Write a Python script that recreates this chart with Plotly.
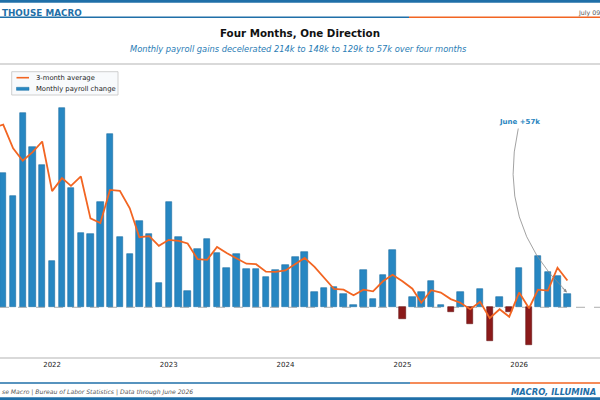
import pandas as pd
import plotly.graph_objects as go

# monthly nonfarm payroll change, thousands (Aug 2021 .. Jun 2026)
months = pd.date_range('2021-08-01', '2026-06-01', freq='MS')
payrolls = [556, 461, 808, 664, 591,
            191, 826, 494, 310, 303, 437, 721, 292, 220, 360, 304, 100,
            437, 292, 66, 242, 282, 227, 165, 220, 158, 160, 127, 155,
            176, 209, 230, 64, 79, 86, 54, 10, 156, 33, 134, 238,
            -48, 41, 65, 108, 11, -18, 65, -71, 75, -140, 41, -19,
            162, -156, 214, 148, 129, 57]

# 3-month average (starts one month earlier, off the left edge)
avg_months = pd.date_range('2021-07-01', '2026-06-01', freq='MS')
avg3 = [745, 758, 660, 608, 644, 688,
        482, 536, 504, 543, 369, 350, 487, 483, 411, 291, 295, 255,
        280, 276, 265, 200, 197, 250, 225, 204, 181, 179, 148, 147,
        153, 180, 205, 168, 124, 76, 73, 50, 73, 66, 108, 135,
        108, 77, 19, 71, 61, 34, 19, -8, 23, -45, -8, -39,
        61, -4, 73, 69, 164, 111]

year_ticks = ['2022-01-01', '2023-01-01', '2024-01-01', '2025-01-01', '2026-01-01']
year_labels = ['2022', '2023', '2024', '2025', '2026']

BLUE = '#2787c2'
RED = '#8b1a1a'
ORANGE = '#f26522'
HDR = '#1f6fa8'

# plot area spans y = 65..357 px of a 400 px page
def py(y_px):
    return (357 - y_px) / 292

def px(x_px):
    return x_px / 600

bar_colors = [BLUE if v >= 0 else RED for v in payrolls]
bar_lines = ['#1b6ea3' if v >= 0 else '#651010' for v in payrolls]

fig = go.Figure()
fig.add_trace(go.Bar(x=months, y=payrolls, name='Monthly payroll change',
                     width=20 * 86400000,
                     marker=dict(color=bar_colors, line=dict(color=bar_lines, width=0.6))))
fig.add_trace(go.Scatter(x=avg_months, y=avg3, name='3-month average', mode='lines',
                         line=dict(color=ORANGE, width=1.8)))

shapes = [
    # zero line
    dict(type='line', xref='paper', yref='y', x0=0, x1=1, y0=0, y1=0,
         line=dict(color='#999999', width=0.8, dash='dash'), layer='below'),
    # header bands
    dict(type='rect', xref='paper', yref='paper', x0=0, x1=1, y0=py(0), y1=py(2.8),
         fillcolor=HDR, line_width=0),
    dict(type='line', xref='paper', yref='paper', x0=0, x1=px(409), y0=py(17.3), y1=py(17.3),
         line=dict(color=HDR, width=1.5)),
    dict(type='line', xref='paper', yref='paper', x0=px(409), x1=1, y0=py(17.3), y1=py(17.3),
         line=dict(color=ORANGE, width=1.5)),
    dict(type='line', xref='paper', yref='paper', x0=0, x1=1, y0=py(64), y1=py(64),
         line=dict(color='#d9d9d9', width=2)),
    # footer bands
    dict(type='line', xref='paper', yref='paper', x0=0, x1=px(410), y0=py(383), y1=py(383),
         line=dict(color=HDR, width=1.5)),
    dict(type='line', xref='paper', yref='paper', x0=px(410), x1=1, y0=py(383), y1=py(383),
         line=dict(color=ORANGE, width=1.5)),
    dict(type='rect', xref='paper', yref='paper', x0=0, x1=1, y0=py(397.3), y1=py(400),
         fillcolor=HDR, line_width=0),
    # legend box and keys
    dict(type='rect', xref='paper', yref='paper', x0=px(11.7), x1=px(118), y0=py(71.7), y1=py(95),
         fillcolor='#f8fafc', line=dict(color='#c4c4c4', width=0.8)),
    dict(type='line', xref='paper', yref='paper', x0=px(16.5), x1=px(29), y0=py(77.7), y1=py(77.7),
         line=dict(color=ORANGE, width=1.6)),
    dict(type='rect', xref='paper', yref='paper', x0=px(16.5), x1=px(29), y0=py(87.3), y1=py(90.3),
         fillcolor=BLUE, line=dict(color='#1b6ea3', width=0.5)),
    # curved callout to June bar
    dict(type='path', xref='paper', yref='paper',
         path='M %.4f,%.4f Q %.4f,%.4f %.4f,%.4f' % (px(518.3), py(128.5), px(496.5), py(224),
                                                     px(566), py(291)),
         line=dict(color='#8a8a8a', width=0.8)),
]

annotations = [
    dict(text='<b>THOUSE MACRO</b>', xref='paper', yref='paper', x=px(0), y=py(12.7),
         xanchor='left', yanchor='middle', showarrow=False,
         font=dict(family='DejaVu Sans', size=8.8, color=HDR)),
    dict(text='July 09', xref='paper', yref='paper', x=px(576), y=py(12.7),
         xanchor='left', yanchor='middle', showarrow=False,
         font=dict(family='DejaVu Sans', size=6.3, color='#555555')),
    dict(text='<b>Four Months, One Direction</b>', xref='paper', yref='paper', x=0.4995, y=py(33),
         xanchor='center', yanchor='middle', showarrow=False,
         font=dict(family='DejaVu Sans', size=10.3, color='#111111')),
    dict(text='<i>Monthly payroll gains decelerated 214k to 148k to 129k to 57k over four months</i>',
         xref='paper', yref='paper', x=0.498, y=py(49.5), xanchor='center', yanchor='middle',
         showarrow=False, font=dict(family='DejaVu Sans', size=8.3, color='#2a7db5')),
    dict(text='3-month average', xref='paper', yref='paper', x=px(33.5), y=py(77.7),
         xanchor='left', yanchor='middle', showarrow=False,
         font=dict(family='DejaVu Sans', size=6.8, color='#222222')),
    dict(text='Monthly payroll change', xref='paper', yref='paper', x=px(33.5), y=py(88.8),
         xanchor='left', yanchor='middle', showarrow=False,
         font=dict(family='DejaVu Sans', size=6.8, color='#222222')),
    dict(text='<b>June +57k</b>', xref='paper', yref='paper', x=px(519), y=py(121.7),
         xanchor='center', yanchor='middle', showarrow=False,
         font=dict(family='DejaVu Sans', size=7, color='#2a85c0')),
    dict(text='', xref='paper', yref='paper', x=px(567), y=py(292.5), ax=-6, ay=-6,
         showarrow=True, arrowhead=2, arrowsize=0.9, arrowwidth=0.8, arrowcolor='#8a8a8a'),
    dict(text='<i>se Macro | Bureau of Labor Statistics | Data through June 2026</i>',
         xref='paper', yref='paper', x=px(0), y=py(392), xanchor='left', yanchor='middle',
         showarrow=False, font=dict(family='DejaVu Sans', size=6.1, color='#555555')),
    dict(text='<b><i>MACRO, ILLUMINA</i></b>', xref='paper', yref='paper', x=px(509),
         y=py(391.5), xanchor='left', yanchor='middle', showarrow=False,
         font=dict(family='DejaVu Sans', size=8.4, color=HDR)),
]

fig.update_layout(width=600, height=400, margin=dict(l=0, r=0, t=65, b=43),
                  paper_bgcolor='white', plot_bgcolor='white',
                  font=dict(family='DejaVu Sans', color='#333333'),
                  bargap=0, showlegend=False,
                  shapes=shapes, annotations=annotations)
fig.update_xaxes(range=['2021-07-22', '2026-09-11'], tickvals=year_ticks, ticktext=year_labels,
                 ticks='', showgrid=False, zeroline=False, showline=True,
                 linecolor='#d9d9d9', linewidth=2, tickfont=dict(size=7, color='#222222'))
fig.update_yaxes(range=[-206.3, 1005.5], visible=False, showgrid=False, zeroline=False)

fig.write_html('out.html', config={'displayModeBar': False},
               post_script="document.body.style.margin='0';")
